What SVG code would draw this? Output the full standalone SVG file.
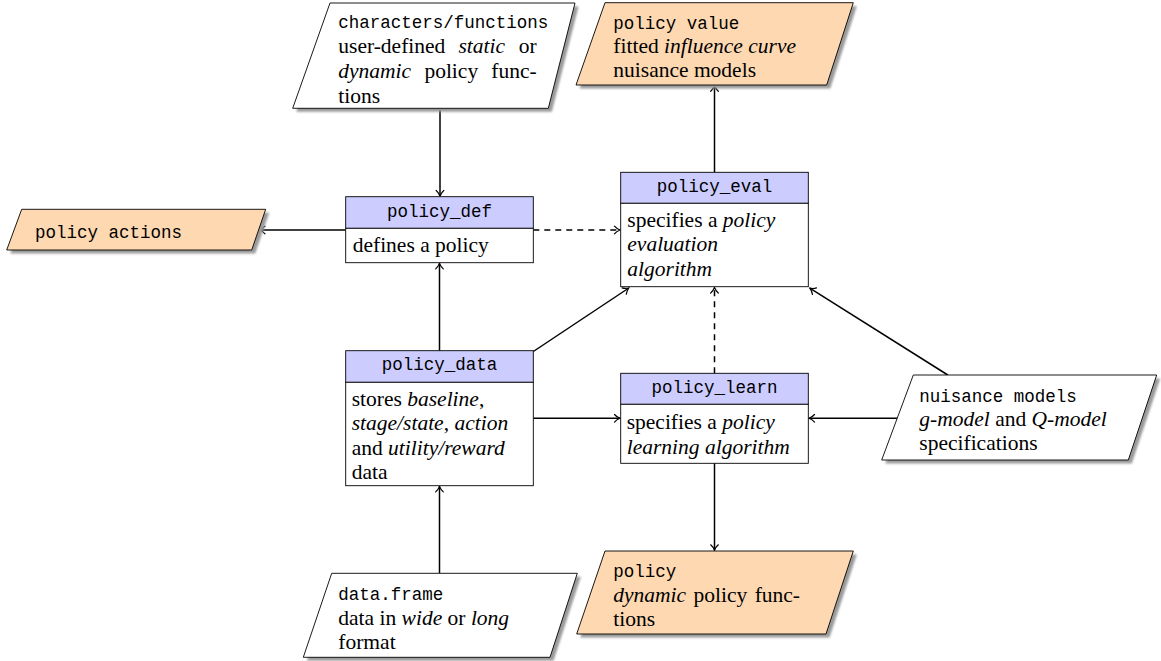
<svg xmlns="http://www.w3.org/2000/svg" width="1161" height="661" viewBox="0 0 1161 661" font-family="Liberation Serif, Times New Roman, DejaVu Serif, Nimbus Roman, FreeSerif, Noto Serif, serif">
<style>
.rm{font-family:"Liberation Serif","Times New Roman","Tinos","DejaVu Serif","Nimbus Roman","Nimbus Roman No9 L","FreeSerif","Noto Serif",serif;font-size:21.5px;fill:#000}
.it{font-style:italic}
.tt{font-family:"Liberation Mono","DejaVu Sans Mono",monospace;font-size:17.5px;fill:#000}
.hd{font-family:"Liberation Mono","DejaVu Sans Mono",monospace;font-size:17.5px;fill:#000;text-anchor:middle}
.para{stroke:#000;stroke-width:0.9;stroke-linejoin:miter}
.white{fill:#fff}
.orange{fill:#fed8b1}
.shadow{fill:#9a9a9a;filter:url(#blur)}
.head{fill:#ccccff;stroke:#000;stroke-width:0.9}
.body{fill:#fff;stroke:#000;stroke-width:0.9}
.edge{stroke:#000;stroke-width:1.5;fill:none;marker-end:url(#arr)}
.dash{stroke-dasharray:6 5}
</style>
<defs>
<filter id="blur" x="-10%" y="-10%" width="120%" height="130%"><feGaussianBlur stdDeviation="1"/></filter>
<marker id="arr" viewBox="-7 -5 8 10" refX="0" refY="0" markerWidth="8" markerHeight="10" markerUnits="userSpaceOnUse" orient="auto">
<path d="M -5.5 -3.8 C -4 -2 -1.5 -0.6 0 0 C -1.5 0.6 -4 2 -5.5 3.8" fill="none" stroke="#000" stroke-width="1.2" stroke-linecap="round"/>
</marker>
</defs>
<rect width="1161" height="661" fill="#fff"/>

<g id="connectors">
<line class="edge" x1="440" y1="108.5" x2="440" y2="196"/>
<line class="edge" x1="345.7" y1="230" x2="259.5" y2="230"/>
<line class="edge dash" x1="533.3" y1="230" x2="620" y2="230"/>
<line class="edge" x1="714.5" y1="172.3" x2="714.5" y2="85.8"/>
<line class="edge" x1="439.5" y1="350.7" x2="439.5" y2="263.4"/>
<line class="edge" x1="533.3" y1="351.5" x2="628.8" y2="288"/>
<line class="edge" x1="947.8" y1="375" x2="809.8" y2="288.2"/>
<line class="edge dash" x1="714.5" y1="373.3" x2="714.5" y2="287.5"/>
<line class="edge" x1="533.3" y1="418.3" x2="620" y2="418.3"/>
<line class="edge" x1="897.2" y1="418.3" x2="809" y2="418.3"/>
<line class="edge" x1="714.5" y1="463.3" x2="714.5" y2="550.3"/>
<line class="edge" x1="439.5" y1="573.3" x2="439.5" y2="486.4"/>
</g>

<g id="characters-functions">
<polygon class="shadow" points="333.5,6.5 578.5,6.5 551.8,111.8 296.2,111.8"/>
<polygon class="para white" points="330,3 575,3 548.3,108.3 292.7,108.3"/>
<text class="tt" x="338.3" y="27.5">characters/functions</text>
<text class="rm" y="52.5"><tspan x="338.3">user-defined</tspan><tspan x="458.4" class="it">static</tspan><tspan x="536.7" text-anchor="end">or</tspan></text>
<text class="rm" y="77.5"><tspan x="338.3" class="it">dynamic</tspan><tspan x="424.4">policy</tspan><tspan x="536.7" text-anchor="end">func-</tspan></text>
<text class="rm" x="338.3" y="102.5">tions</text>
</g>

<g id="policy-value">
<polygon class="shadow" points="608.5,6.2 856.8,6.2 830.2,88.5 579.5,88.5"/>
<polygon class="para orange" points="605,2.7 853.3,2.7 826.7,85 576,85"/>
<text class="tt" x="613.3" y="28.5">policy value</text>
<text class="rm" x="613.3" y="52.8">fitted <tspan class="it">influence curve</tspan></text>
<text class="rm" x="613.3" y="77">nuisance models</text>
</g>

<g id="policy-actions">
<polygon class="shadow" points="25.2,212.8 269.2,212.8 255.2,253.5 10.2,253.5"/>
<polygon class="para orange" points="21.7,209.3 265.7,209.3 251.7,250 6.7,250"/>
<text class="tt" x="35" y="237.5">policy actions</text>
</g>

<g id="policy_def">
<rect class="head" x="345.7" y="196.7" width="187.6" height="31.6"/>
<rect class="body" x="345.7" y="228.3" width="187.6" height="34.4"/>
<text class="hd" x="439.5" y="216.5">policy_def</text>
<text class="rm" x="352.7" y="251.7">defines a policy</text>
</g>

<g id="policy_eval">
<rect class="head" x="620.7" y="172.3" width="187.6" height="31"/>
<rect class="body" x="620.7" y="203.3" width="187.6" height="83.4"/>
<text class="hd" x="714.5" y="191.7">policy_eval</text>
<text class="rm" x="627.3" y="227">specifies a <tspan class="it">policy</tspan></text>
<text class="rm it" x="627.3" y="251.3">evaluation</text>
<text class="rm it" x="627.3" y="275.5">algorithm</text>
</g>

<g id="policy_data">
<rect class="head" x="345.7" y="350.7" width="187.6" height="31.6"/>
<rect class="body" x="345.7" y="382.3" width="187.6" height="103.4"/>
<text class="hd" x="439.5" y="370">policy_data</text>
<text class="rm" x="351.7" y="405.5">stores <tspan class="it">baseline</tspan>,</text>
<text class="rm" x="351.7" y="430"><tspan class="it">stage/state</tspan>, <tspan class="it">action</tspan></text>
<text class="rm" x="351.7" y="454.5">and <tspan class="it">utility/reward</tspan></text>
<text class="rm" x="351.7" y="479">data</text>
</g>

<g id="policy_learn">
<rect class="head" x="620.7" y="373.3" width="187.6" height="31"/>
<rect class="body" x="620.7" y="404.3" width="187.6" height="59"/>
<text class="hd" x="714.5" y="393">policy_learn</text>
<text class="rm" x="626.7" y="429">specifies a <tspan class="it">policy</tspan></text>
<text class="rm it" x="626.7" y="453.5">learning algorithm</text>
</g>

<g id="nuisance-models">
<polygon class="shadow" points="916.8,378.5 1160.2,378.5 1131.8,463.5 885.2,463.5"/>
<polygon class="para white" points="913.3,375 1156.7,375 1128.3,460 881.7,460"/>
<text class="tt" x="919.3" y="401.5">nuisance models</text>
<text class="rm" x="919.3" y="425.5"><tspan class="it">g-model</tspan> and <tspan class="it">Q-model</tspan></text>
<text class="rm" x="919.3" y="449.5">specifications</text>
</g>

<g id="data-frame">
<polygon class="shadow" points="335.2,576.8 580.8,576.8 553.5,660.8 306.8,660.8"/>
<polygon class="para white" points="331.7,573.3 577.3,573.3 550,657.3 303.3,657.3"/>
<text class="tt" x="338.3" y="600">data.frame</text>
<text class="rm" x="338.3" y="624.5">data in <tspan class="it">wide</tspan> or <tspan class="it">long</tspan></text>
<text class="rm" x="338.3" y="649">format</text>
</g>

<g id="policy">
<polygon class="shadow" points="608.5,554.5 856.8,554.5 829.5,637.5 580.2,637.5"/>
<polygon class="para orange" points="605,551 853.3,551 826,634 576.7,634"/>
<text class="tt" x="613.3" y="577">policy</text>
<text class="rm" y="601.5"><tspan x="613.3" class="it">dynamic</tspan><tspan x="693.5">policy</tspan><tspan x="800" text-anchor="end">func-</tspan></text>
<text class="rm" x="613.3" y="626">tions</text>
</g>
</svg>
